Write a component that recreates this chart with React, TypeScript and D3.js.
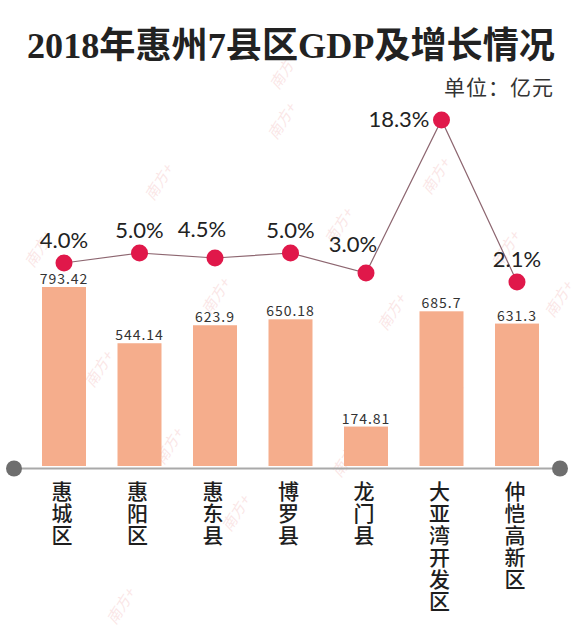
import React from "react";
import * as d3 from "d3";

const categories = ["惠城区", "惠阳区", "惠东县", "博罗县", "龙门县", "大亚湾开发区", "仲恺高新区"];
const gdpValues = [793.42, 544.14, 623.9, 650.18, 174.81, 685.7, 631.3];
const gdpLabels = ["793.42", "544.14", "623.9", "650.18", "174.81", "685.7", "631.3"];
const growthValues = [4.0, 5.0, 4.5, 5.0, 3.0, 18.3, 2.1];
const growthLabels = ["4.0%", "5.0%", "4.5%", "5.0%", "3.0%", "18.3%", "2.1%"];
const titleText = "2018年惠州7县区GDP及增长情况";
const unitText = "单位：亿元";

// decorative watermark spots (not data)
const watermarkSpots: [number, number][] = [
  [285, 72], [160, 183], [283, 122], [437, 177], [340, 227], [507, 250],
  [217, 297], [100, 370], [170, 447], [290, 377], [393, 313], [453, 400],
  [347, 460], [237, 514], [122, 607], [40, 250], [560, 300],
];

const W = 580;
const H = 631;
const BAR_W = 44;
const BASE_Y = 466;
const AXIS_Y = 468.5;

export default function App() {
  const x = d3.scalePoint<string>().domain(categories).range([64, 517]).padding(0);
  const yBar = d3.scaleLinear().domain([0, 800]).range([BASE_Y, BASE_Y - 800 * 0.2256]);
  const yGrowth = d3.scaleLinear().domain([0, 20]).range([303, 103]);

  const pts = categories.map((c, i) => [x(c) as number, yGrowth(growthValues[i])] as [number, number]);
  const linePath = d3.line()(pts) || "";

  const cjk = "'Noto Sans CJK SC', 'Noto Sans', sans-serif";

  return (
    <svg
      width={W}
      height={H}
      viewBox={`0 0 ${W} ${H}`}
      style={{ position: "absolute", left: 0, top: 0, display: "block", background: "#ffffff" }}
    >
      <rect x={0} y={0} width={W} height={H} fill="#ffffff" />

      {/* watermarks */}
      {watermarkSpots.map(([wx, wy], i) => (
        <text
          key={"wm" + i}
          x={wx}
          y={wy}
          transform={`rotate(-58 ${wx} ${wy})`}
          textAnchor="middle"
          dominantBaseline="middle"
          fontFamily={cjk}
          fontSize={15}
          fontStyle="italic"
          fill="#e8797a"
          opacity={0.18}
        >
          南方+
        </text>
      ))}

      {/* title */}
      <text
        x={291}
        y={58}
        textAnchor="middle"
        fontFamily="'Liberation Serif', 'Noto Sans CJK SC', serif"
        fontWeight="bold"
        fontSize={36}
        fill="#222"
        textLength={528}
        lengthAdjust="spacingAndGlyphs"
      >
        {titleText}
      </text>
      <text x={554} y={95} textAnchor="end" fontFamily={cjk} fontSize={21} fill="#333" letterSpacing={1}>
        {unitText}
      </text>

      {/* bars */}
      {categories.map((c, i) => (
        <rect
          key={"bar" + c}
          x={(x(c) as number) - BAR_W / 2}
          y={yBar(gdpValues[i])}
          width={BAR_W}
          height={BASE_Y - yBar(gdpValues[i])}
          fill="#f5ad8c"
        />
      ))}
      {categories.map((c, i) => (
        <text
          key={"bl" + c}
          x={x(c) as number}
          y={yBar(gdpValues[i]) - 3}
          textAnchor="middle"
          fontFamily={cjk}
          fontSize={14}
          letterSpacing={1}
          fill="#333"
        >
          {gdpLabels[i]}
        </text>
      ))}

      {/* axis */}
      <line x1={15} x2={559} y1={AXIS_Y} y2={AXIS_Y} stroke="#a9a9a9" strokeWidth={2} />
      <circle cx={14} cy={AXIS_Y} r={8} fill="#6e6e6e" />
      <circle cx={560} cy={AXIS_Y} r={8} fill="#6e6e6e" />

      {/* category labels (vertical) */}
      {categories.map((c) => (
        <text
          key={"cat" + c}
          x={(x(c) as number) - 2}
          y={481}
          style={{ writingMode: "vertical-rl" }}
          textAnchor="start"
          fontFamily={cjk}
          fontWeight={500}
          fontSize={21}
          letterSpacing={1}
          fill="#1e1e1e"
        >
          {c}
        </text>
      ))}

      {/* growth line */}
      <path d={linePath} fill="none" stroke="#8d6670" strokeWidth={1.2} />
      {pts.map(([px, py], i) => (
        <circle key={"pt" + i} cx={px} cy={py} r={8.5} fill="#e0184a" />
      ))}
      {pts.map(([px, py], i) => {
        const v = growthValues[i];
        let tx = px;
        let ty = py - 15;
        let anchor: "middle" | "end" = "middle";
        if (v === d3.max(growthValues)) {
          tx = px - 12;
          ty = py + 7;
          anchor = "end";
        } else if (i > 0 && i < pts.length - 1 && pts[i - 1][1] < py && pts[i + 1][1] < py) {
          tx = px - 13;
          ty = py - 21;
        }
        return (
          <text
            key={"gl" + i}
            x={tx}
            y={ty}
            textAnchor={anchor}
            fontFamily="Lato, 'Open Sans', sans-serif"
            fontSize={22}
            fill="#222"
          >
            {growthLabels[i]}
          </text>
        );
      })}
    </svg>
  );
}
